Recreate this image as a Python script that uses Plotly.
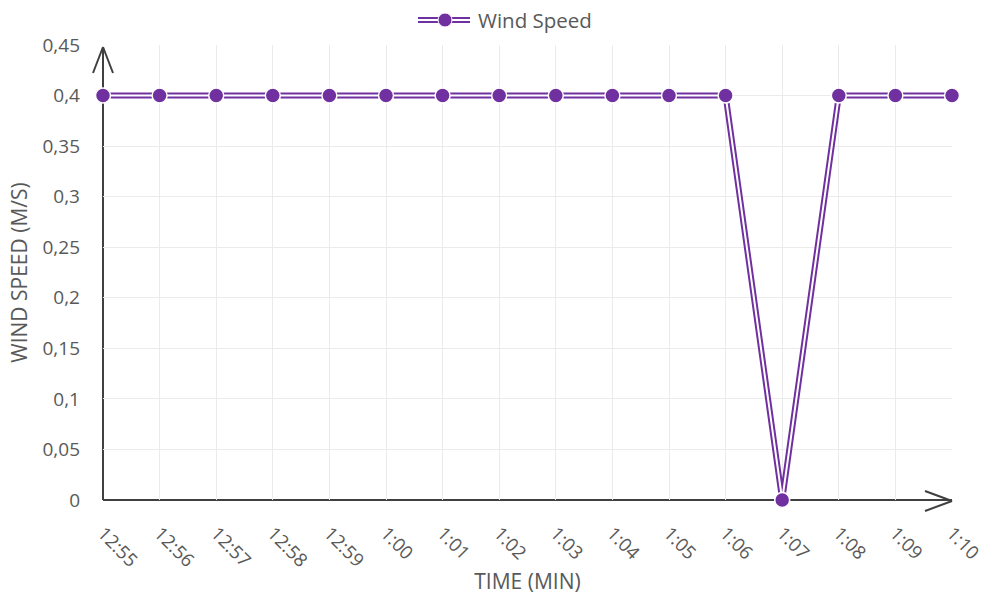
import plotly.graph_objects as go

times = ["12:55", "12:56", "12:57", "12:58", "12:59", "1:00", "1:01", "1:02",
         "1:03", "1:04", "1:05", "1:06", "1:07", "1:08", "1:09", "1:10"]
wind_speed = [0.4, 0.4, 0.4, 0.4, 0.4, 0.4, 0.4, 0.4,
              0.4, 0.4, 0.4, 0.4, 0.0, 0.4, 0.4, 0.4]
y_ticks = [0, 0.05, 0.1, 0.15, 0.2, 0.25, 0.3, 0.35, 0.4, 0.45]
y_tick_text = ["0", "0,05", "0,1", "0,15", "0,2", "0,25", "0,3", "0,35", "0,4", "0,45"]

PURPLE = "#7030A0"
AXIS = "#404040"
TXT = "#595959"
FONT = "Open Sans"

fig = go.Figure()
fig.add_trace(go.Scatter(x=times, y=wind_speed, mode="lines",
                         line=dict(color=PURPLE, width=6), showlegend=False,
                         hoverinfo="skip", cliponaxis=False))
fig.add_trace(go.Scatter(x=times, y=wind_speed, mode="lines+markers", name="Wind Speed",
                         line=dict(color="white", width=2),
                         marker=dict(color=PURPLE, size=15, line=dict(color="white", width=1.5)),
                         showlegend=False, cliponaxis=False))

L, R, T, B = 103, 38, 45, 99
W, H = 990, 599
pw, ph = W - L - R, H - T - B

def px(x):
    return (x - L) / pw

def py(y):
    return (H - B - y) / ph

shapes = []
line_style = dict(color=AXIS, width=2)
# y-axis arrow head
for dx in (-10, 10):
    shapes.append(dict(type="line", xref="paper", yref="paper",
                       x0=px(103), y0=py(47), x1=px(103 + dx), y1=py(73), line=line_style))
# x-axis arrow head
for dy in (-10, 10):
    shapes.append(dict(type="line", xref="paper", yref="paper",
                       x0=px(952), y0=py(501), x1=px(925), y1=py(501 + dy), line=line_style))
shapes.append(dict(type="line", xref="paper", yref="paper",
                   x0=0, y0=0, x1=0, y1=py(47), line=line_style, layer="below"))
shapes.append(dict(type="line", xref="paper", yref="paper",
                   x0=0, y0=0, x1=1, y1=0, line=line_style, layer="below"))

# legend symbol (manual, to reproduce double line)
ly = 20
shapes.append(dict(type="line", xref="paper", yref="paper",
                   x0=px(418), y0=py(ly), x1=px(470), y1=py(ly),
                   line=dict(color=PURPLE, width=6)))
shapes.append(dict(type="line", xref="paper", yref="paper",
                   x0=px(418), y0=py(ly), x1=px(470), y1=py(ly),
                   line=dict(color="white", width=2)))
shapes.append(dict(type="circle", xref="paper", yref="paper",
                   x0=px(438), y0=py(ly - 7), x1=px(452), y1=py(ly + 7),
                   fillcolor=PURPLE, line=dict(color="white", width=1)))

fig.update_layout(
    width=W, height=H,
    margin=dict(l=L, r=R, t=T, b=B),
    plot_bgcolor="white", paper_bgcolor="white",
    font=dict(family=FONT, color=TXT, size=19),
    shapes=shapes,
    annotations=[dict(text="Wind Speed", xref="paper", yref="paper",
                      x=px(476), y=py(ly), xanchor="left", yanchor="middle",
                      showarrow=False, font=dict(size=20.5, color=TXT, family=FONT))],
    xaxis=dict(type="category", range=[0, len(times) - 1], showgrid=True,
               gridcolor="#EBEBEB", gridwidth=1, tickangle=45, showline=False,
               zeroline=False, ticks="", ticklabelstandoff=18, automargin=False,
               tickfont=dict(size=18.5, color=TXT),
               title=dict(text="TIME (MIN)", font=dict(size=21, color=TXT), standoff=3)),
    yaxis=dict(range=[0, 0.45], tickvals=y_ticks, ticktext=y_tick_text,
               showgrid=True, gridcolor="#EBEBEB", gridwidth=1, zeroline=False,
               showline=False, ticks="", ticklabelstandoff=22, automargin=False,
               tickfont=dict(size=19, color=TXT),
               title=dict(text="WIND SPEED (M/S)", font=dict(size=21, color=TXT), standoff=9)),
)

fig.write_html("out.html")
